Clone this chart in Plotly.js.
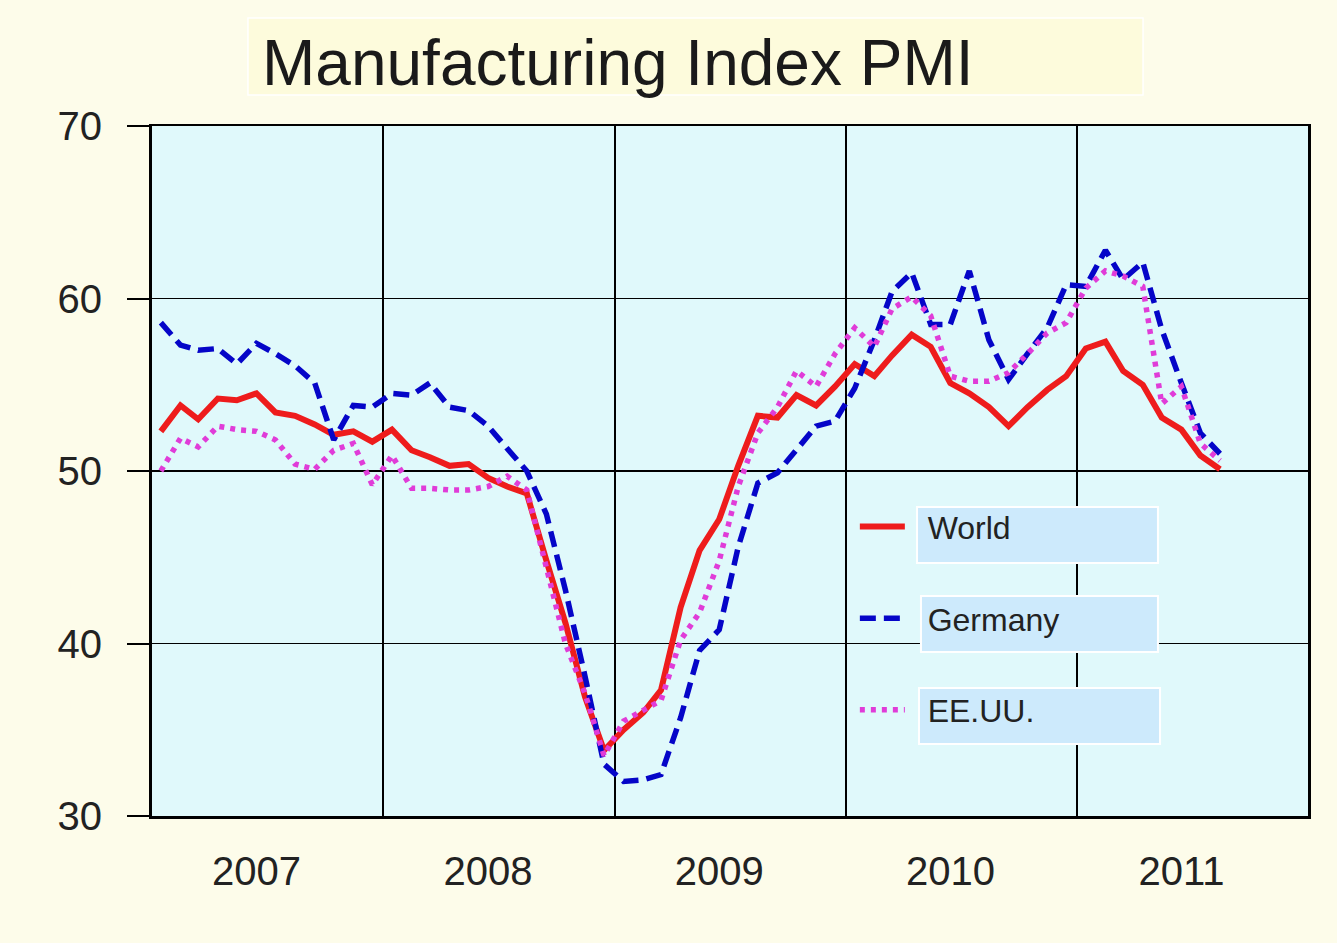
<!DOCTYPE html>
<html>
<head>
<meta charset="utf-8">
<script src="https://cdn.plot.ly/plotly-3.0.1.min.js"></script>
<style>
  html, body { margin: 0; padding: 0; background: #fdfcea; }
  #chart { width: 1337px; height: 943px; }
</style>
</head>
<body>
<div id="chart"></div>
<script>
// Monthly PMI values, January 2007 to August 2011
const startYear = 2007;
const world = [
  52.3, 53.8, 53.0, 54.2, 54.1, 54.5, 53.4, 53.2, 52.7, 52.1, 52.3, 51.7,
  52.4, 51.2, 50.8, 50.3, 50.4, 49.6, 49.1, 48.7, 44.8, 41.2, 36.9, 33.8,
  35.0, 36.0, 37.3, 42.1, 45.4, 47.2, 50.3, 53.2, 53.1, 54.4, 53.8, 54.9,
  56.2, 55.5, 56.7, 57.9, 57.2, 55.1, 54.5, 53.7, 52.6, 53.7, 54.7, 55.5,
  57.1, 57.5, 55.8, 55.0, 53.1, 52.4, 50.9, 50.1
];
const germany = [
  58.6, 57.3, 57.0, 57.1, 56.2, 57.4, 56.8, 56.1, 55.1, 51.8, 53.8, 53.7,
  54.5, 54.4, 55.1, 53.7, 53.5, 52.6, 51.3, 50.0, 47.5, 43.1, 38.1, 33.0,
  32.0, 32.1, 32.4, 35.7, 39.6, 40.8, 45.6, 49.3, 49.9, 51.2, 52.6, 52.9,
  54.8, 57.6, 60.4, 61.5, 58.5, 58.5, 61.6, 57.6, 55.3, 56.8, 58.3, 60.8,
  60.7, 62.8, 61.1, 62.1, 58.2, 55.1, 52.2, 51.0
];
const usa = [
  50.0, 51.9, 51.4, 52.6, 52.4, 52.3, 51.8, 50.4, 50.1, 51.2, 51.6, 49.2,
  50.9, 49.0, 49.0, 48.9, 48.9, 49.1, 49.7, 48.9, 44.4, 40.0, 37.1, 33.5,
  35.5, 36.1, 36.7, 40.2, 41.8, 44.8, 49.1, 52.2, 53.7, 55.8, 54.9, 56.8,
  58.3, 57.2, 59.4, 60.1, 59.0, 55.5, 55.2, 55.2, 55.7, 56.8, 58.0, 58.6,
  60.6, 61.6, 61.3, 60.7, 53.9, 54.9, 51.6, 50.6
];
const seriesNames = ["World", "Germany", "EE.UU."];
const yTicks = [30, 40, 50, 60, 70];
const titleText = "Manufacturing Index PMI";

// month dates (mid-month) for each value
const months = world.map((_, i) => {
  const y = startYear + Math.floor(i / 12);
  const m = (i % 12) + 1;
  return y + "-" + String(m).padStart(2, "0") + "-15";
});

const font = "Liberation Sans, Arial, sans-serif";
const pad = "\u00a0\u00a0";

const traces = [
  { x: months, y: world, name: pad + seriesNames[0], type: "scatter", mode: "lines",
    legendgroup: "a", line: { color: "#ee1c1c", width: 6 } },
  { x: months, y: germany, name: pad + seriesNames[1], type: "scatter", mode: "lines",
    legendgroup: "b", line: { color: "#0505c8", width: 5.5, dash: "16px,8px" } },
  { x: months, y: usa, name: pad + seriesNames[2], type: "scatter", mode: "lines",
    legendgroup: "c", line: { color: "#e03cd8", width: 5.5, dash: "5px,6px" } }
];

const boxStyle = { fillcolor: "#cdeafc", line: { color: "#ffffff", width: 2 }, layer: "above" };

const layout = {
  width: 1337, height: 943,
  paper_bgcolor: "#fdfcea",
  plot_bgcolor: "#e0f9fb",
  margin: { l: 152, r: 29, t: 126, b: 127 },
  showlegend: true,
  title: {
    text: titleText,
    x: 262 / 1337, xanchor: "left", xref: "container",
    y: 1 - 63 / 943, yanchor: "middle", yref: "container",
    font: { family: font, size: 64, color: "#1a1a1a" }
  },
  xaxis: {
    type: "date",
    range: ["2007-01-01", "2012-01-01"],
    tick0: "2007-01-01", dtick: "M12",
    tickformat: "%Y",
    ticklabelmode: "period",
    ticklabelshift: -11,
    ticklabelstandoff: 18,
    ticks: "",
    showgrid: true, gridcolor: "#000000", gridwidth: 1.5,
    showline: true, linecolor: "#000000", linewidth: 2.5, mirror: true,
    zeroline: false,
    tickfont: { family: font, size: 40, color: "#222222" },
    fixedrange: true
  },
  yaxis: {
    range: [30, 70],
    tickvals: yTicks,
    ticks: "outside", ticklen: 22, tickwidth: 2, tickcolor: "#000000",
    ticklabelstandoff: 17,
    showgrid: true, gridcolor: "#000000", gridwidth: 1.5,
    showline: true, linecolor: "#000000", linewidth: 3, mirror: true,
    zeroline: false,
    tickfont: { family: font, size: 40, color: "#222222" },
    fixedrange: true
  },
  legend: {
    x: 0.608, xanchor: "left",
    y: 0.459, yanchor: "top",
    bgcolor: "rgba(0,0,0,0)",
    borderwidth: 0,
    itemwidth: 45,
    tracegroupgap: 47,
    font: { family: font, size: 32, color: "#222222" }
  },
  shapes: [
    { type: "rect", xref: "paper", yref: "paper",
      x0: 0.083, x1: 0.8573, y0: 1.0449, y1: 1.1565,
      fillcolor: "#fdfbdc", line: { color: "#ffffff", width: 1.5 }, layer: "below" },
    Object.assign({ type: "rect", xref: "paper", yref: "paper",
      x0: 0.6618, x1: 0.8702, y0: 0.3667, y1: 0.4478 }, boxStyle),
    Object.assign({ type: "rect", xref: "paper", yref: "paper",
      x0: 0.6652, x1: 0.8702, y0: 0.2377, y1: 0.3188 }, boxStyle),
    Object.assign({ type: "rect", xref: "paper", yref: "paper",
      x0: 0.6635, x1: 0.8720, y0: 0.1043, y1: 0.1855 }, boxStyle)
  ]
};

Plotly.newPlot("chart", traces, layout, { displayModeBar: false, staticPlot: true });
</script>
</body>
</html>
